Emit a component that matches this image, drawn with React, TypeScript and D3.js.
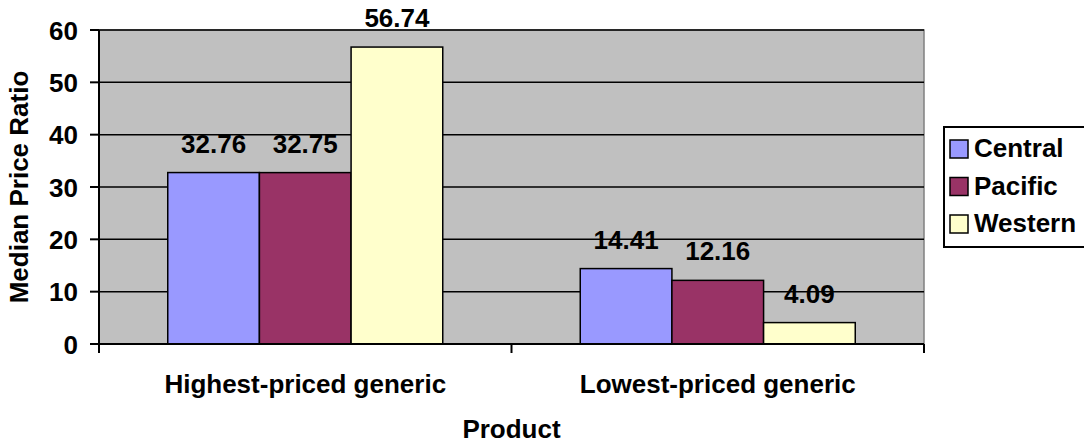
import React from "react";
import * as d3 from "d3";

const categories = ["Highest-priced generic", "Lowest-priced generic"];
const seriesNames = ["Central", "Pacific", "Western"];
const central = [32.76, 14.41];
const pacific = [32.75, 12.16];
const western = [56.74, 4.09];
const yTicks = [0, 10, 20, 30, 40, 50, 60];
const colors = ["#9999FF", "#993366", "#FFFFCC"];

const W = 1084;
const H = 444;
const plot = { left: 99, right: 924, top: 30, bottom: 344 };
const FONT = "'Liberation Sans', Arial, Helvetica, sans-serif";
const FS = 26;

export default function App() {
  const series = [central, pacific, western];
  const x0 = d3.scaleBand<string>().domain(categories).range([plot.left, plot.right]).paddingInner(0).paddingOuter(0);
  const x1 = d3.scaleBand<string>().domain(seriesNames).range([0, x0.bandwidth()]).paddingInner(0).paddingOuter(0.75);
  const y = d3.scaleLinear().domain([0, 60]).range([plot.bottom, plot.top]);
  const tickXs = [plot.left, ...categories.map((c) => (x0(c) as number) + x0.bandwidth())];

  return (
    <svg width={W} height={H} style={{ position: "absolute", left: 0, top: 0, background: "#fff" }} fontFamily={FONT} fontWeight="bold">
      <rect x={plot.left} y={plot.top} width={plot.right - plot.left} height={plot.bottom - plot.top} fill="#C0C0C0" stroke="#808080" strokeWidth={1.5} />
      {yTicks.filter((t) => t > 0).map((t) => (
        <line key={"g" + t} x1={plot.left} x2={plot.right} y1={y(t)} y2={y(t)} stroke="#000" strokeWidth={1.5} />
      ))}
      {categories.map((c, ci) =>
        seriesNames.map((s, si) => {
          const v = series[si][ci];
          const bx = (x0(c) as number) + (x1(s) as number);
          return (
            <g key={c + s}>
              <rect x={bx} y={y(v)} width={x1.bandwidth()} height={y(0) - y(v)} fill={colors[si]} stroke="#000" strokeWidth={1.5} />
              <text x={bx + x1.bandwidth() / 2} y={y(v) - 20} textAnchor="middle" fontSize={FS} fill="#000">
                {v.toFixed(2)}
              </text>
            </g>
          );
        })
      )}
      {/* axes */}
      <line x1={plot.left} x2={plot.left} y1={plot.top} y2={plot.bottom} stroke="#000" strokeWidth={2} />
      <line x1={plot.left} x2={plot.right} y1={plot.bottom} y2={plot.bottom} stroke="#000" strokeWidth={2} />
      {yTicks.map((t) => (
        <g key={"t" + t}>
          <line x1={plot.left - 9} x2={plot.left} y1={y(t)} y2={y(t)} stroke="#000" strokeWidth={2} />
          <text x={78} y={y(t) + 9.5} textAnchor="end" fontSize={FS} fill="#000">
            {t}
          </text>
        </g>
      ))}
      {tickXs.map((tx, i) => (
        <line key={"xt" + i} x1={tx} x2={tx} y1={plot.bottom} y2={plot.bottom + 9} stroke="#000" strokeWidth={2} />
      ))}
      {categories.map((c) => (
        <text key={"c" + c} x={(x0(c) as number) + x0.bandwidth() / 2} y={393} textAnchor="middle" fontSize={FS} fill="#000">
          {c}
        </text>
      ))}
      <text x={(plot.left + plot.right) / 2} y={438} textAnchor="middle" fontSize={FS} fill="#000">
        Product
      </text>
      <text transform={`translate(28, ${(plot.top + plot.bottom) / 2}) rotate(-90)`} textAnchor="middle" fontSize={FS} fill="#000">
        Median Price Ratio
      </text>
      {/* legend */}
      <rect x={944} y={127} width={150} height={120} fill="#fff" stroke="#000" strokeWidth={2} />
      {seriesNames.map((s, i) => (
        <g key={"l" + s}>
          <rect x={950} y={140 + i * 37.5} width={18} height={18} fill={colors[i]} stroke="#000" strokeWidth={1.5} />
          <text x={974} y={157 + i * 37.5} fontSize={FS} fill="#000">
            {s}
          </text>
        </g>
      ))}
    </svg>
  );
}
